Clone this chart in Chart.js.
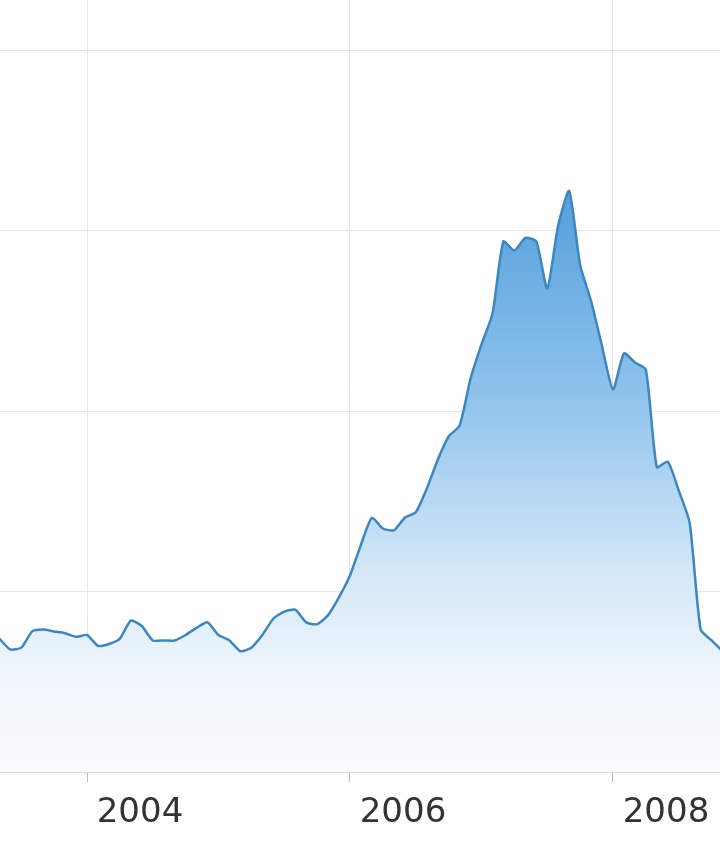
<!DOCTYPE html>
<html>
<head>
<meta charset="utf-8">
<script src="https://cdn.jsdelivr.net/npm/chart.js@4.4.1/dist/chart.umd.min.js"></script>
<style>
  html, body { margin: 0; padding: 0; background: #ffffff; }
  #wrap { width: 720px; height: 845px; }
</style>
</head>
<body>
<div id="wrap"><canvas id="c" width="720" height="845"></canvas></div>
<script>
// Monthly categories (year-month)
const months = [
  '2003-05','2003-06','2003-07','2003-08','2003-09','2003-10','2003-11','2003-12',
  '2004-01','2004-02','2004-03','2004-04','2004-05','2004-06','2004-07','2004-08','2004-09','2004-10','2004-11','2004-12',
  '2005-01','2005-02','2005-03','2005-04','2005-05','2005-06','2005-07','2005-08','2005-09','2005-10','2005-11','2005-12',
  '2006-01','2006-02','2006-03','2006-04','2006-05','2006-06','2006-07','2006-08','2006-09','2006-10','2006-11','2006-12',
  '2007-01','2007-02','2007-03','2007-04','2007-05','2007-06','2007-07','2007-08','2007-09','2007-10','2007-11','2007-12',
  '2008-01','2008-02','2008-03','2008-04','2008-05','2008-06','2008-07','2008-08','2008-09','2008-10','2008-11'
];
// Series values
const values = [
  7.4, 6.8, 6.9, 7.8, 7.9, 7.8, 7.7, 7.5,
  7.6, 7.0, 7.1, 7.4, 8.4, 8.1, 7.3, 7.3, 7.3, 7.6, 8.0, 8.3,
  7.6, 7.3, 6.7, 6.9, 7.6, 8.5, 8.9, 9.0, 8.3, 8.2, 8.7, 9.7,
  10.9, 12.6, 14.1, 13.5, 13.4, 14.1, 14.4, 15.7, 17.3, 18.6, 19.2, 21.8,
  23.7, 25.4, 29.4, 28.9, 29.6, 29.4, 26.8, 30.3, 32.2, 28.1, 26.1, 23.6,
  21.2, 23.2, 22.7, 22.3, 16.9, 17.2, 15.6, 13.8, 7.9, 7.3, 6.7
];
// Tick labels on the time axis
const tickYears = [2004, 2006, 2008];
const yGridValues = [0, 10, 20, 30, 40];

const xMin = 2003.3384, xMax = 2008.8137;
const yMin = 0, yMax = 42.78;

const points = months.map((m, i) => {
  const [y, mo] = m.split('-').map(Number);
  return { x: y + (mo - 1) / 12, y: values[i] };
});

function fillGradient(ctx) {
  const chart = ctx.chart;
  const area = chart.chartArea;
  if (!area) return 'rgba(100,170,225,0.5)';
  const g = chart.ctx.createLinearGradient(0, area.top, 0, area.bottom);
  g.addColorStop(0.0, 'rgb(66,146,214)');
  g.addColorStop(0.25, 'rgb(84,160,220)');
  g.addColorStop(0.5, 'rgb(140,193,235)');
  g.addColorStop(0.75, 'rgb(214,233,248)');
  g.addColorStop(0.88, 'rgb(240,246,252)');
  g.addColorStop(1.0, 'rgb(250,252,254)');
  return g;
}

new Chart(document.getElementById('c'), {
  type: 'line',
  data: {
    datasets: [{
      data: points,
      borderColor: '#3d87c0',
      borderWidth: 2.5,
      backgroundColor: fillGradient,
      fill: 'origin',
      pointRadius: 0,
      tension: 0.2
    }]
  },
  options: {
    responsive: false,
    animation: false,
    layout: { padding: { left: 0, right: 0, top: 0, bottom: 0 } },
    plugins: { legend: { display: false }, tooltip: { enabled: false } },
    scales: {
      x: {
        type: 'linear',
        min: xMin,
        max: xMax,
        afterBuildTicks: (s) => { s.ticks = tickYears.map(v => ({ value: v })); },
        grid: {
          color: '#e6e6e6',
          lineWidth: 1,
          tickLength: 10,
          tickColor: '#b8b8b8',
          drawTicks: true
        },
        border: { display: true, color: '#c4c8cc', width: 1.5 },
        ticks: {
          callback: (v) => String(v),
          color: '#333333',
          font: { family: 'DejaVu Sans', size: 34 },
          padding: 11,
          labelOffset: 53,
          maxRotation: 0,
          autoSkip: false
        }
      },
      y: {
        min: yMin,
        max: yMax,
        afterBuildTicks: (s) => { s.ticks = yGridValues.map(v => ({ value: v })); },
        grid: { color: '#e6e6e6', lineWidth: 1, drawTicks: false },
        border: { display: false },
        ticks: { display: false }
      }
    }
  }
});
</script>
</body>
</html>
